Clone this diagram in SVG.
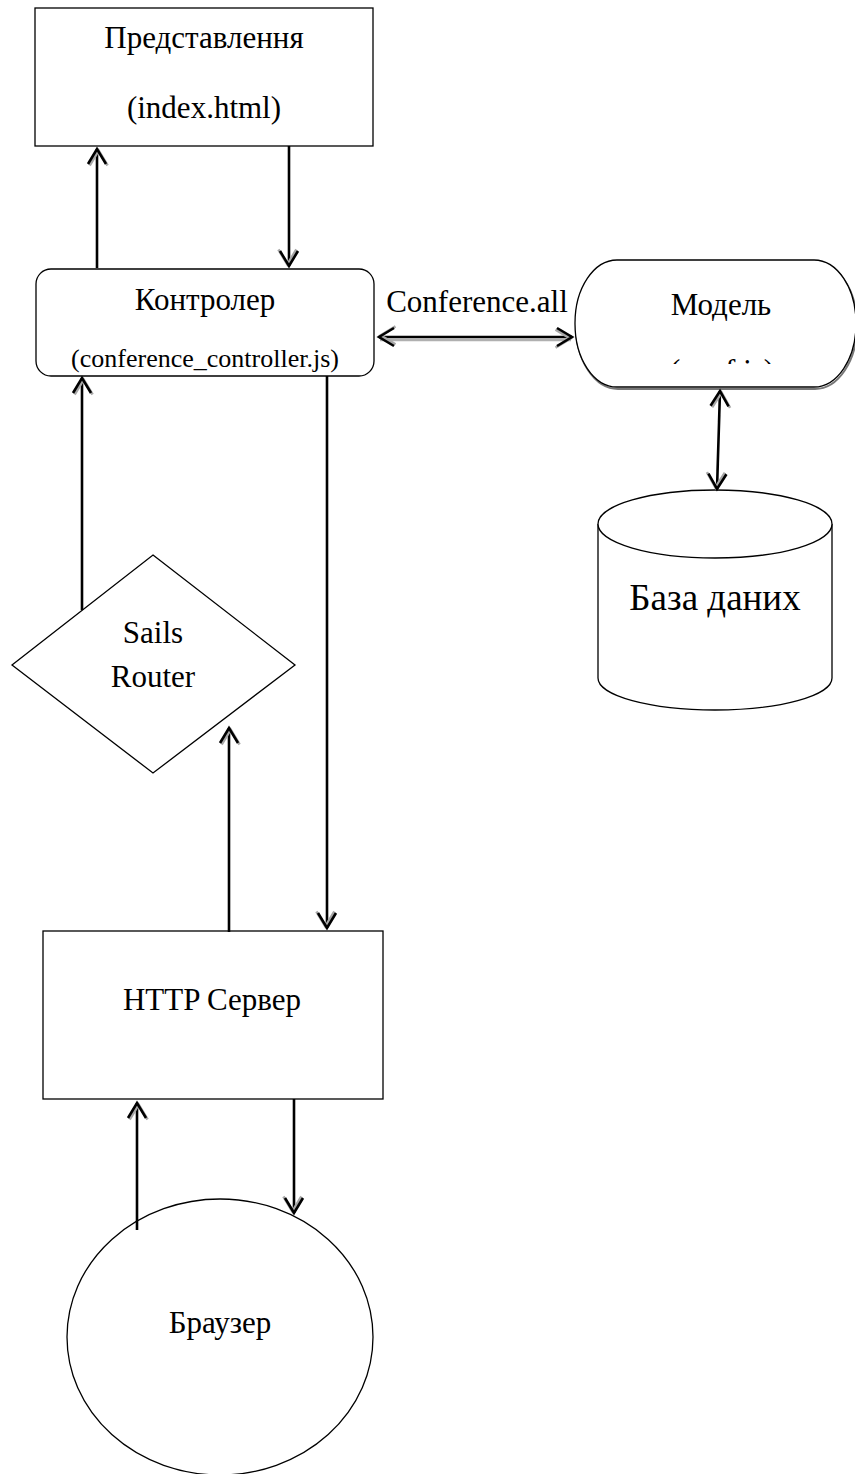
<svg xmlns="http://www.w3.org/2000/svg" width="855" height="1474" viewBox="0 0 855 1474">
  <style>
    .shape { fill: #ffffff; stroke: #000000; stroke-width: 1.3; }
    .lbl { font-family: "Liberation Serif", "Times New Roman", serif; font-size: 31px; fill: #000000; text-anchor: middle; }
    .small { font-size: 26px; }
    .big { font-size: 37px; }
    .wire { fill: none; stroke: #000000; stroke-width: 2.6; }
    .wire-shadow { fill: none; stroke: #b0b0b0; stroke-width: 2.6; }
  </style>
  <defs>
    <marker id="head" markerUnits="userSpaceOnUse" markerWidth="30" markerHeight="30" viewBox="-20 -15 30 30" refX="0" refY="0" orient="auto-start-reverse" overflow="visible">
      <path d="M -15 -9 L 0 0 L -15 9" fill="none" stroke="#a8a8a8" stroke-width="2.6" transform="translate(-1.5,1.6)"/>
      <path d="M -15 -9 L 0 0 L -15 9" fill="none" stroke="#000000" stroke-width="2.6"/>
    </marker>
    <clipPath id="model-text-clip">
      <rect x="575" y="330" width="280" height="34"/>
    </clipPath>
  </defs>

  <rect width="855" height="1474" fill="#ffffff"/>

  <!-- View -->
  <g id="view">
    <rect class="shape" x="35" y="8" width="338" height="138"/>
    <text class="lbl" x="204" y="48">Представлення</text>
    <text class="lbl" x="204" y="118">(index.html)</text>
  </g>

  <!-- Controller -->
  <g id="controller">
    <rect class="shape" x="36" y="269" width="338" height="107" rx="15" ry="15"/>
    <text class="lbl" x="205" y="310">Контролер</text>
    <text class="lbl small" x="205" y="367">(conference_controller.js)</text>
  </g>

  <!-- Model -->
  <g id="model">
    <rect x="576" y="262" width="281" height="127" rx="42" ry="63" fill="none" stroke="#777777" stroke-width="2"/>
    <rect class="shape" x="575" y="260" width="281" height="127" rx="42" ry="63"/>
    <text class="lbl" x="721" y="315">Модель</text>
    <text class="lbl" x="722" y="381" clip-path="url(#model-text-clip)">(conf.js)</text>
  </g>

  <!-- Database -->
  <g id="database">
    <path class="shape" d="M 598 524 L 598 678 A 117 32 0 0 0 832 678 L 832 524"/>
    <ellipse class="shape" cx="715" cy="524" rx="117" ry="34"/>
    <text class="lbl big" x="715" y="610">База даних</text>
  </g>

  <!-- Router -->
  <g id="router">
    <polygon class="shape" points="153,555 295,665 153,773 12,665"/>
    <text class="lbl" x="153" y="643">Sails</text>
    <text class="lbl" x="153" y="687">Router</text>
  </g>

  <!-- HTTP server -->
  <g id="http-server">
    <rect class="shape" x="43" y="931" width="340" height="168"/>
    <text class="lbl" x="212" y="1010">HTTP Сервер</text>
  </g>

  <!-- Browser -->
  <g id="browser">
    <ellipse class="shape" cx="220" cy="1337" rx="153" ry="138"/>
    <text class="lbl" x="220" y="1333">Браузер</text>
  </g>

  <!-- Connectors -->
  <g id="connectors">
    <line class="wire" x1="97" y1="268" x2="97" y2="149" marker-end="url(#head)"/>
    <line class="wire" x1="289" y1="146" x2="289" y2="266" marker-end="url(#head)"/>
    <line class="wire-shadow" x1="380" y1="340" x2="571" y2="340"/>
    <line class="wire" x1="379" y1="337" x2="572" y2="337" marker-start="url(#head)" marker-end="url(#head)"/>
    <text class="lbl" x="477" y="312">Conference.all</text>
    <line class="wire" x1="720" y1="391" x2="717" y2="489" marker-start="url(#head)" marker-end="url(#head)"/>
    <line class="wire" x1="82" y1="610" x2="82" y2="378" marker-end="url(#head)"/>
    <line class="wire" x1="327" y1="376" x2="327" y2="928" marker-end="url(#head)"/>
    <line class="wire" x1="229" y1="932" x2="229" y2="728" marker-end="url(#head)"/>
    <line class="wire" x1="137" y1="1230" x2="137" y2="1103" marker-end="url(#head)"/>
    <line class="wire" x1="294" y1="1099" x2="294" y2="1213" marker-end="url(#head)"/>
  </g>
</svg>
